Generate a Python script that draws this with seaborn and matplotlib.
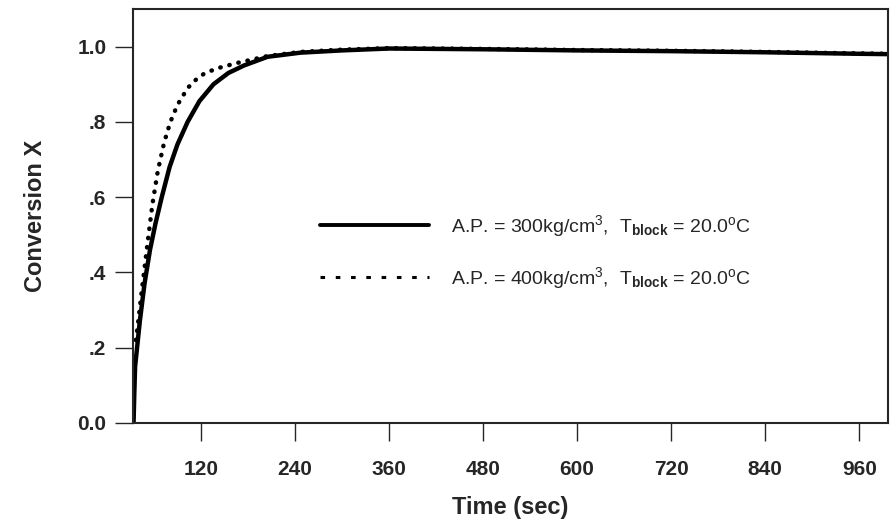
import numpy as np
import pandas as pd
import seaborn as sns
import matplotlib.pyplot as plt
from matplotlib.lines import Line2D

# Solid curve: A.P. = 300 kg/cm3
time_300 = [34, 35, 36, 38, 42, 48, 55, 62, 70, 80, 90, 103, 118, 136, 155, 175,
            205, 247, 300, 360, 480, 600, 720, 840, 960, 1000]
conv_300 = [0.0, 0.08, 0.15, 0.19, 0.27, 0.37, 0.46, 0.53, 0.60, 0.68, 0.74, 0.80,
            0.855, 0.90, 0.93, 0.95, 0.973, 0.984, 0.99, 0.995, 0.993, 0.99, 0.988,
            0.985, 0.981, 0.98]

# Dotted curve: A.P. = 400 kg/cm3
time_400 = [37, 40, 45, 52, 58, 65, 73, 81, 90, 103, 115, 124, 140, 167, 205, 247,
            300, 360, 480, 600, 720, 840, 960, 1000]
conv_400 = [0.22, 0.27, 0.36, 0.48, 0.58, 0.67, 0.745, 0.80, 0.845, 0.89, 0.915,
            0.928, 0.942, 0.957, 0.975, 0.986, 0.992, 0.996, 0.994, 0.991, 0.989,
            0.986, 0.982, 0.981]

labels = [r"A.P. = 300kg/cm$^{3}$,  T$_{\mathbf{block}}$ = 20.0$^{\mathrm{o}}$C",
          r"A.P. = 400kg/cm$^{3}$,  T$_{\mathbf{block}}$ = 20.0$^{\mathrm{o}}$C"]

x_ticks = [120, 240, 360, 480, 600, 720, 840, 960]
y_ticks = [0.0, 0.2, 0.4, 0.6, 0.8, 1.0]
y_tick_labels = ["0.0", ".2", ".4", ".6", ".8", "1.0"]

sns.set_style("ticks")
plt.rcParams['font.family'] = ['Liberation Sans', 'DejaVu Sans']
plt.rcParams['mathtext.fontset'] = 'custom'
plt.rcParams['mathtext.rm'] = 'Liberation Sans'
plt.rcParams['mathtext.bf'] = 'Liberation Sans:bold'
plt.rcParams['mathtext.it'] = 'Liberation Sans:italic'

df_300 = pd.DataFrame({"t": time_300, "x": conv_300})
df_400 = pd.DataFrame({"t": time_400, "x": conv_400})

fig, ax = plt.subplots(figsize=(8.91, 5.30), dpi=100)
fig.subplots_adjust(left=0.149, right=0.997, top=0.983, bottom=0.202)

sns.lineplot(data=df_300, x="t", y="x", ax=ax, color="black", linewidth=3.2,
             estimator=None, sort=False)
sns.lineplot(data=df_400, x="t", y="x", ax=ax, color="black", linewidth=3.2,
             linestyle=(0, (0.1, 2.0)), dash_capstyle="round",
             estimator=None, sort=False)

ax.set_xlim(33, 997)
ax.set_ylim(0, 1.10)
ax.set_xticks(x_ticks)
ax.set_xticklabels([str(v) for v in x_ticks])
ax.set_yticks(y_ticks)
ax.set_yticklabels(y_tick_labels)

for lbl in ax.get_xticklabels() + ax.get_yticklabels():
    lbl.set_fontweight("bold")
    lbl.set_fontsize(15)

ax.tick_params(axis="both", direction="out", length=13, width=1.0, pad=6)
ax.tick_params(axis="x", pad=14)

for sp in ax.spines.values():
    sp.set_visible(True)
    sp.set_linewidth(1.5)

ax.set_xlabel("Time (sec)", fontsize=17, fontweight="bold", labelpad=12)
ax.set_ylabel("Conversion X", fontsize=17, fontweight="bold", labelpad=22)

handles = [
    Line2D([], [], color="black", linewidth=2.8),
    Line2D([], [], color="black", linewidth=2.2, linestyle=(0, (1.5, 3.5))),
]
ax.legend(handles, labels, loc="upper left", bbox_to_anchor=(0.225, 0.55),
          frameon=False, fontsize=14, handlelength=5.6, handletextpad=1.1,
          labelspacing=1.35)

fig.savefig("out.png", dpi=100)
